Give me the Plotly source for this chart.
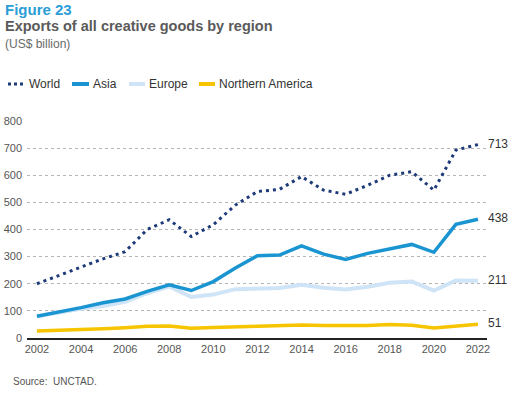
import plotly.graph_objects as go

years = list(range(2002, 2023))
world = [200, 230, 262, 292, 318, 400, 436, 374, 418, 490, 540, 548, 595, 545, 530, 563, 600, 613, 545, 693, 713]
asia = [80, 95, 112, 130, 144, 172, 196, 175, 208, 258, 303, 306, 340, 309, 290, 312, 330, 345, 316, 419, 438]
europe = [80, 95, 108, 118, 133, 165, 190, 151, 160, 180, 181, 184, 196, 185, 179, 189, 204, 208, 175, 212, 211]
namerica = [26, 28, 31, 34, 38, 43, 44, 36, 39, 42, 45, 46, 48, 46, 45, 46, 50, 47, 37, 44, 51]
end_labels = ["713", "438", "211", "51"]
y_ticks = [0, 100, 200, 300, 400, 500, 600, 700, 800]
x_ticks = list(range(2002, 2023, 2))

names = ["World", "Asia", "Europe", "Northern America"]
colors = ["#1e3a78", "#1a95d1", "#cfe4f6", "#f6c500"]

# plot area pixel geometry
L, R, T, B = 27, 487, 121, 338
W, H = R - L, B - T
def px(x): return (x - L) / W
def py(y): return (B - y) / H

fig = go.Figure()
fig.add_trace(go.Scatter(x=years, y=namerica, mode="lines", name=names[3],
                         line=dict(color=colors[3], width=3.5)))
fig.add_trace(go.Scatter(x=years, y=europe, mode="lines", name=names[2],
                         line=dict(color=colors[2], width=4)))
fig.add_trace(go.Scatter(x=years, y=asia, mode="lines", name=names[1],
                         line=dict(color=colors[1], width=3.5)))
fig.add_trace(go.Scatter(x=years, y=world, mode="lines", name=names[0],
                         line=dict(color=colors[0], width=3, dash="3px,4px")))

annotations = []
shapes = []
# end labels
for vals, lab in zip([world, asia, europe, namerica], end_labels):
    annotations.append(dict(x=years[-1], y=vals[-1], xref="x", yref="y", text=lab,
                            showarrow=False, xanchor="left", xshift=8, yshift=1,
                            font=dict(size=12, color="#333333")))
# titles
annotations += [
    dict(x=px(3), y=py(-1), xref="paper", yref="paper", text="<b>Figure 23</b>",
         showarrow=False, xanchor="left", yanchor="top",
         font=dict(size=15, color="#2c9dd6")),
    dict(x=px(3), y=py(16), xref="paper", yref="paper",
         text="<b>Exports of all creative goods by region</b>",
         showarrow=False, xanchor="left", yanchor="top",
         font=dict(size=14.5, color="#5a5a5a")),
    dict(x=px(3), y=py(35), xref="paper", yref="paper", text="(US$ billion)",
         showarrow=False, xanchor="left", yanchor="top",
         font=dict(size=12, color="#6a6a6a")),
    dict(x=px(11), y=py(381), xref="paper", yref="paper", text="Source:  UNCTAD.",
         showarrow=False, xanchor="left", yanchor="middle",
         font=dict(size=10, color="#555555")),
]
# manual legend
leg = [(8, 24, 27), (72, 89, 91), (129, 145, 147), (199, 215, 217)]
dashes = ["dot", "solid", "solid", "solid"]
widths = [3, 4, 4, 4]
for (x0, x1, xt), nm, c, d, w in zip(leg, names, colors, dashes, widths):
    shapes.append(dict(type="line", xref="paper", yref="paper",
                       x0=px(x0), x1=px(x1), y0=py(84), y1=py(84),
                       line=dict(color=c, width=w, dash=d)))
    annotations.append(dict(x=px(xt), y=py(84), xref="paper", yref="paper", text=nm,
                            showarrow=False, xanchor="left", yanchor="middle",
                            font=dict(size=12, color="#333333")))

fig.update_layout(
    width=508, height=395,
    margin=dict(l=L, r=508 - R, t=T, b=395 - B, pad=0, autoexpand=False),
    paper_bgcolor="white", plot_bgcolor="white",
    showlegend=False,
    font=dict(family="Liberation Sans, Arial, sans-serif", color="#555555"),
    annotations=annotations, shapes=shapes,
    xaxis=dict(range=[2001.55, 2022.41], tickvals=x_ticks, showgrid=False,
               showline=True, linecolor="#222222", linewidth=1.5, automargin=False,
               ticks="", tickfont=dict(size=11, color="#555555"), zeroline=False),
    yaxis=dict(range=[0, 800], tickvals=y_ticks, showgrid=True, gridcolor="#b5b5b5",
               griddash="dot", gridwidth=1, zeroline=False, showline=False,
               automargin=False,
               ticks="", tickfont=dict(size=11, color="#555555"), ticklabelstandoff=4),
)

fig.write_html("out.html", config={"displayModeBar": False},
               post_script="document.body.style.margin='0';document.body.style.overflow='hidden';")
